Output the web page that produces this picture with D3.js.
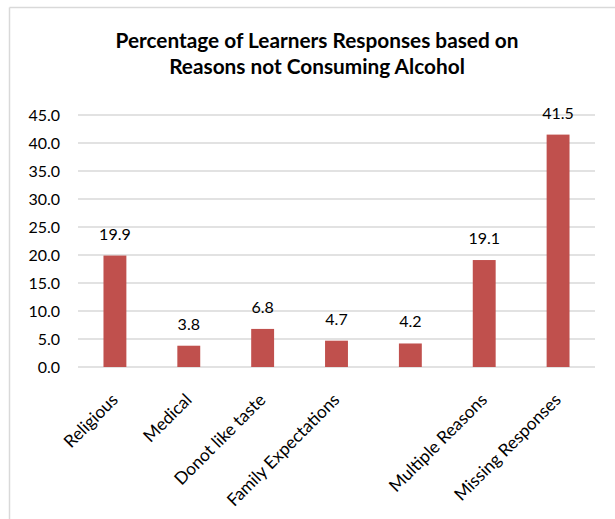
<!DOCTYPE html>
<html>
<head>
<meta charset="utf-8">
<script src="https://cdn.jsdelivr.net/npm/d3@7"></script>
<style>
  html, body { margin: 0; padding: 0; background: #fff; }
  svg { display: block; }
  text { font-family: Lato, "Liberation Sans", sans-serif; fill: #000; }
</style>
</head>
<body>
<script>
// Reasons given by learners for not consuming alcohol (percent)
const categories = ["Religious", "Medical", "Donot like taste", "Family Expectations", "", "Multiple Reasons", "Missing Responses"];
const percentages = [19.9, 3.8, 6.8, 4.7, 4.2, 19.1, 41.5];
const yTicks = [0, 5, 10, 15, 20, 25, 30, 35, 40, 45];
const titleLines = ["Percentage of Learners Responses based on", "Reasons not Consuming Alcohol"];

const W = 615, H = 519;
const plot = { left: 78, right: 595, top: 115, bottom: 367 };

const svg = d3.select("body").append("svg")
  .attr("width", W).attr("height", H);

// chart frame (top and left edges visible)
svg.append("line").attr("x1", 9.5).attr("x2", W).attr("y1", 7.5).attr("y2", 7.5)
  .attr("stroke", "#d9d9d9").attr("stroke-width", 1.5);
svg.append("line").attr("x1", 9.5).attr("x2", 9.5).attr("y1", 7.5).attr("y2", H)
  .attr("stroke", "#d9d9d9").attr("stroke-width", 1.5);

const x = d3.scaleBand()
  .domain(d3.range(categories.length))
  .range([plot.left, plot.right])
  .paddingInner(0.69).paddingOuter(0.345);

const y = d3.scaleLinear().domain([0, 45]).range([plot.bottom, plot.top]);

// title
const title = svg.append("text")
  .attr("text-anchor", "middle")
  .attr("font-weight", "bold")
  .attr("font-size", 20.8);
title.selectAll("tspan").data(titleLines).join("tspan")
  .attr("x", 317)
  .attr("y", (d, i) => 48 + i * 26)
  .text(d => d);

// gridlines
svg.append("g").selectAll("line").data(yTicks).join("line")
  .attr("x1", plot.left).attr("x2", plot.right)
  .attr("y1", d => y(d)).attr("y2", d => y(d))
  .attr("stroke", "#d9d9d9").attr("stroke-width", 1.5);

// y axis labels
const yAxis = d3.axisLeft(y).tickValues(yTicks).tickFormat(d3.format(".1f")).tickSize(0).tickPadding(18);
const yg = svg.append("g").attr("transform", `translate(${plot.left},0)`).call(yAxis);
yg.select(".domain").remove();
yg.selectAll("text").attr("font-size", 16).attr("font-family", "Lato, sans-serif").attr("fill", "#000");

// bars
svg.append("g").selectAll("rect").data(percentages).join("rect")
  .attr("x", (d, i) => x(i))
  .attr("width", x.bandwidth())
  .attr("y", d => y(d))
  .attr("height", d => y(0) - y(d))
  .attr("fill", "#c0504d");

// value labels
svg.append("g").selectAll("text").data(percentages).join("text")
  .attr("x", (d, i) => x(i) + x.bandwidth() / 2)
  .attr("y", d => y(d) - 16)
  .attr("text-anchor", "middle")
  .attr("font-size", 16)
  .text(d => d.toFixed(1));

// category labels, rotated
svg.append("g").selectAll("text").data(categories).join("text")
  .attr("transform", (d, i) => `translate(${x(i) + x.bandwidth() / 2 + 4},${plot.bottom + 34}) rotate(-45)`)
  .attr("text-anchor", "end")
  .attr("font-size", 17.3)
  .text(d => d);
</script>
</body>
</html>
